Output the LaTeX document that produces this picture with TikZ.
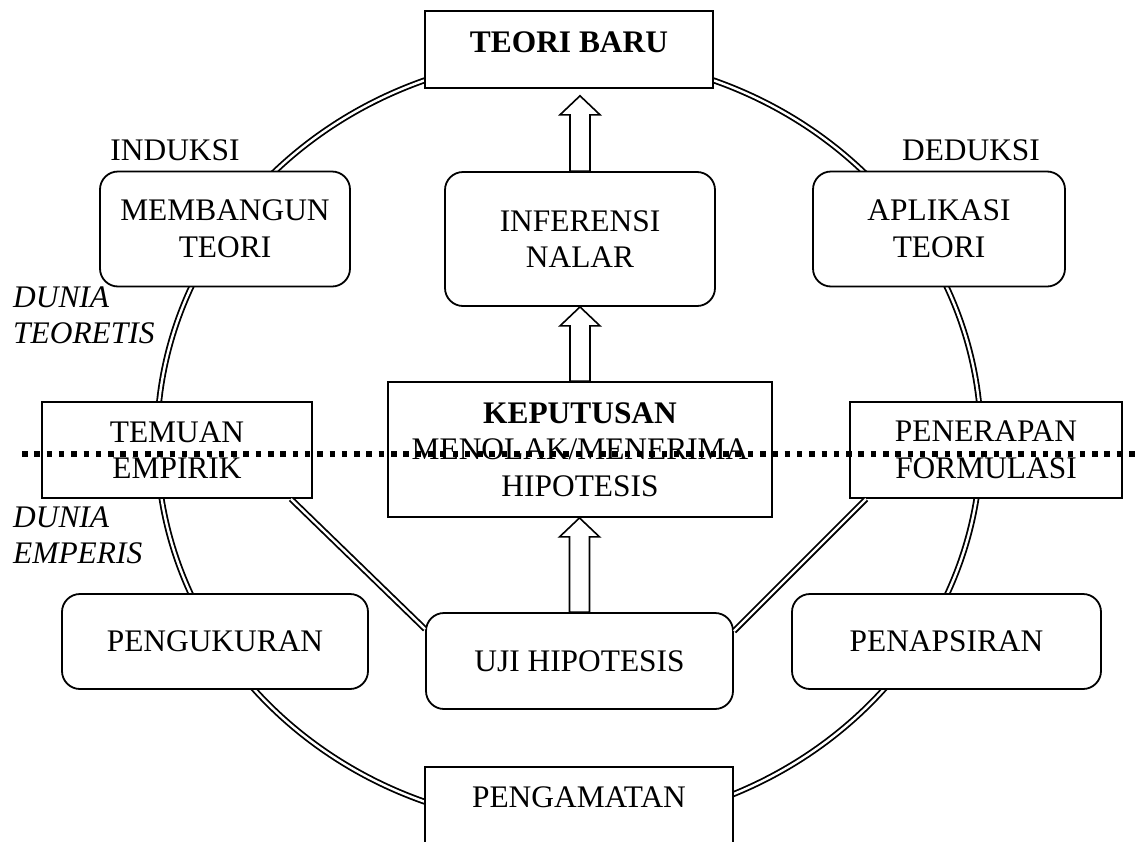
\documentclass[tikz,border=0pt]{standalone}
\usepackage{fontspec}
\setmainfont{Liberation Serif}
\usetikzlibrary{calc}
% hollow block arrow from a box top (#1) up to a tip (#2)
\newcommand{\hollowup}[2]{%
  \draw[line width=1.6pt, fill=white, line join=miter] let \p1=(#1), \p2=(#2) in
    (\x1-10pt,\y1) -- (\x1-10pt,\y2-19pt) -- (\x1-20pt,\y2-19pt) -- (\x1,\y2)
    -- (\x1+20pt,\y2-19pt) -- (\x1+10pt,\y2-19pt) -- (\x1+10pt,\y1) -- cycle;}

\begin{document}
\begin{tikzpicture}[x=1pt, y=-1pt,
    font=\fontsize{31.4}{36.6}\selectfont,
    plainbox/.style={draw, line width=1.8pt, fill=white, align=center, inner sep=0pt},
    roundbox/.style={plainbox, rounded corners=18pt},
    ring/.style={double, line width=1.8pt, double distance=2.4pt},
    sidenote/.style={font=\fontsize{31.4}{36}\selectfont\itshape, align=left,
                     anchor=west, inner sep=0pt}]
  \useasboundingbox (0,0) rectangle (1138,841);
  % research cycle
  \coordinate (hub) at (569,441);
  \draw[ring] (hub) ellipse [x radius=412pt, y radius=385pt];
  % boxes
  \node[plainbox, anchor=north, minimum width=288pt, text height=42pt, text depth=35pt]
    (teori) at (569,10) {\textbf{TEORI BARU}};
  \node[roundbox, minimum width=270pt, minimum height=134pt] (inferensi) at (580,239)
    {INFERENSI\\NALAR};
  \node[roundbox, minimum width=250pt, minimum height=115pt] (membangun) at (225,229)
    {MEMBANGUN\\TEORI};
  \node[roundbox, minimum width=252pt, minimum height=115pt] (aplikasi) at (939,229)
    {APLIKASI\\TEORI};
  \node[plainbox, minimum width=384pt, minimum height=135pt] (keputusan) at (580,449.5)
    {\textbf{KEPUTUSAN}\\MENOLAK/MENERIMA\\HIPOTESIS};
  \node[plainbox, minimum width=270pt, minimum height=96pt] (temuan) at (177,450)
    {TEMUAN\\EMPIRIK};
  \node[plainbox, minimum width=272pt, minimum height=96pt] (penerapan) at (986,450)
    {PENERAPAN\\FORMULASI};
  \node[roundbox, minimum width=306pt, minimum height=95pt] (pengukuran) at (215,641.5)
    {PENGUKURAN};
  \node[roundbox, minimum width=309pt, minimum height=95pt] (penapsiran) at (946.5,641.5)
    {PENAPSIRAN};
  \node[roundbox, minimum width=307pt, minimum height=96pt] (uji) at (579.5,661)
    {UJI HIPOTESIS};
  \node[plainbox, anchor=north, minimum width=308pt, text height=41pt, text depth=45pt]
    (pengamatan) at (579,766) {PENGAMATAN};
  % labels
  \node (induksi) at (175,150) {INDUKSI};
  \node (deduksi) at (971,150) {DEDUKSI};
  \node[sidenote] (teoretis) at (13,315) {DUNIA\\TEORETIS};
  \node[sidenote] (emperis) at (13,535) {DUNIA\\EMPERIS};
  % links to the test
  \draw[ring] ($(temuan.south east)+(-22,0)$) -- ($(uji.north west)+(0,17)$);
  \draw[ring] ($(penerapan.south west)+(17,0)$) -- ($(uji.north east)+(0,19)$);
  % upward arrows
  \hollowup{inferensi.north}{$(teori.south)+(0,7)$}
  \hollowup{keputusan.north}{inferensi.south}
  \hollowup{uji.north}{keputusan.south}
  % border between the two worlds
  \coordinate (splitL) at (22,454);
  \coordinate (splitR) at (1138,454);
  \draw[line width=5.5pt, dash pattern=on 5.5pt off 6.8pt] (splitL) -- (splitR);
\end{tikzpicture}
\end{document}
